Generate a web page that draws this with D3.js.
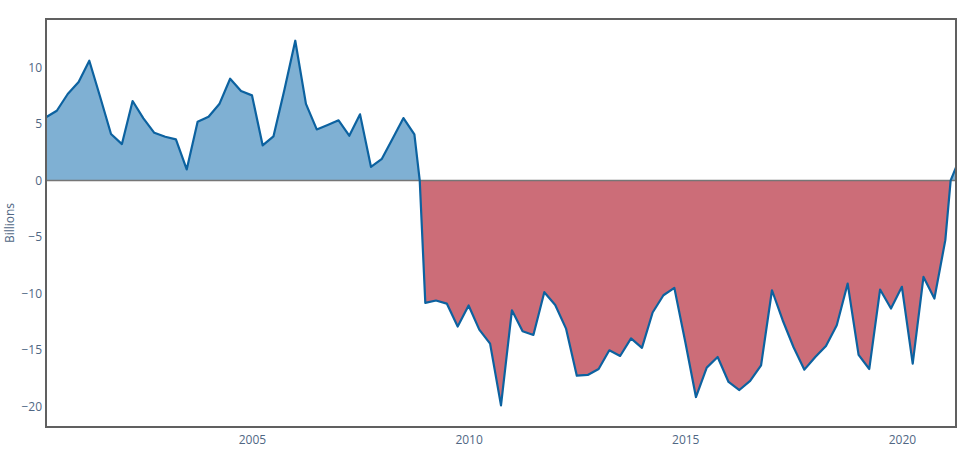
<!DOCTYPE html>
<html>
<head>
<meta charset="utf-8">
<script src="https://cdn.jsdelivr.net/npm/d3@7"></script>
<style>
  html,body{margin:0;padding:0;background:#fff}
  svg{display:block}
</style>
</head>
<body>
<div id="chart"></div>
<script>
// quarterly values (billions); zero points mark where the series crosses sign
var dates=['2000-04-01','2000-07-01','2000-10-01','2001-01-01','2001-04-01','2001-07-01','2001-10-01','2002-01-01',
  '2002-04-01','2002-07-01','2002-10-01','2003-01-01','2003-04-01','2003-07-01','2003-10-01','2004-01-01',
  '2004-04-01','2004-07-01','2004-10-01','2005-01-01','2005-04-01','2005-07-01','2005-10-01','2006-01-01',
  '2006-04-01','2006-07-01','2006-10-01','2007-01-01','2007-04-01','2007-07-01','2007-10-01','2008-01-01',
  '2008-04-01','2008-07-01','2008-10-01','2008-11-15','2009-01-01','2009-04-01','2009-07-01','2009-10-01',
  '2010-01-01','2010-04-01','2010-07-01','2010-10-01','2011-01-01','2011-04-01','2011-07-01','2011-10-01',
  '2012-01-01','2012-04-01','2012-07-01','2012-10-01','2013-01-01','2013-04-01','2013-07-01','2013-10-01',
  '2014-01-01','2014-04-01','2014-07-01','2014-10-01','2015-01-01','2015-04-01','2015-07-01','2015-10-01',
  '2016-01-01','2016-04-01','2016-07-01','2016-10-01','2017-01-01','2017-04-01','2017-07-01','2017-10-01',
  '2018-01-01','2018-04-01','2018-07-01','2018-10-01','2019-01-01','2019-04-01','2019-07-01','2019-10-01',
  '2020-01-01','2020-04-01','2020-07-01','2020-10-01','2021-01-01','2021-02-15','2021-04-01'];
var values=[5.58,6.16,7.64,8.70,10.58,7.4,4.10,3.21,
  7.02,5.49,4.21,3.86,3.63,0.97,5.19,5.63,
  6.75,8.99,7.90,7.52,3.10,3.89,8.0,12.35,
  6.77,4.51,4.9,5.31,3.95,5.84,1.20,1.91,
  3.7,5.51,4.07,0,-10.83,-10.62,-10.89,-12.92,
  -11.06,-13.19,-14.43,-19.89,-11.48,-13.34,-13.66,-9.88,
  -11.01,-13.10,-17.26,-17.20,-16.67,-15.02,-15.52,-13.97,
  -14.8,-11.68,-10.15,-9.50,-14.27,-19.15,-16.55,-15.61,
  -17.82,-18.53,-17.73,-16.35,-9.71,-12.36,-14.73,-16.73,
  -15.61,-14.63,-12.81,-9.12,-15.43,-16.67,-9.65,-11.33,
  -9.41,-16.2,-8.53,-10.44,-5.28,0,1.15];
var yTicks=[-20,-15,-10,-5,0,5,10];
var xTickYears=[2005,2010,2015,2020];

var W=970,H=466;
var m={top:19,right:14,bottom:39,left:46};
var F='"Open Sans",sans-serif';
var C={pos:'#7fb0d3',neg:'#cc6d78',line:'#0c62a0',box:'#606060',zero:'#767676',txt:'#506784'};

var parse=d3.timeParse('%Y-%m-%d');
var data=dates.map(function(d,i){return {t:parse(d),v:values[i]}});

var svg=d3.select('#chart').append('svg').attr('width',W).attr('height',H);

var x=d3.scaleTime().domain(d3.extent(data,function(d){return d.t})).range([m.left,W-m.right]);
var y=d3.scaleLinear().domain([-21.8,14.27]).range([H-m.bottom,m.top]);

var clipTop=svg.append('clipPath').attr('id','cpos').append('rect')
  .attr('x',m.left).attr('y',m.top).attr('width',W-m.left-m.right).attr('height',y(0)-m.top);
var clipBot=svg.append('clipPath').attr('id','cneg').append('rect')
  .attr('x',m.left).attr('y',y(0)).attr('width',W-m.left-m.right).attr('height',H-m.bottom-y(0));

var area=d3.area().x(function(d){return x(d.t)}).y0(y(0)).y1(function(d){return y(d.v)});
svg.append('path').datum(data).attr('d',area).attr('fill',C.pos).attr('clip-path','url(#cpos)');
svg.append('path').datum(data).attr('d',area).attr('fill',C.neg).attr('clip-path','url(#cneg)');

// zero line
svg.append('line').attr('x1',m.left).attr('x2',W-m.right).attr('y1',y(0)).attr('y2',y(0))
  .attr('stroke',C.zero).attr('stroke-width',1.5);

var line=d3.line().x(function(d){return x(d.t)}).y(function(d){return y(d.v)});
svg.append('path').datum(data).attr('d',line).attr('fill','none').attr('stroke',C.line)
  .attr('stroke-width',2.2).attr('stroke-linejoin','round');

// frame
svg.append('rect').attr('x',m.left).attr('y',m.top).attr('width',W-m.left-m.right).attr('height',H-m.top-m.bottom)
  .attr('fill','none').attr('stroke',C.box).attr('stroke-width',2);

// axes (labels only)
var yAx=svg.append('g').attr('transform','translate('+m.left+',0)')
  .call(d3.axisLeft(y).tickValues(yTicks).tickSize(0).tickPadding(4).tickFormat(function(d){return d<0?'\u2212'+(-d):d}));
yAx.select('.domain').remove();
yAx.selectAll('text').attr('font-family',F).attr('font-size',12).attr('fill',C.txt);

var xAx=svg.append('g').attr('transform','translate(0,'+(H-m.bottom)+')')
  .call(d3.axisBottom(x).tickValues(xTickYears.map(function(yr){return new Date(yr,0,1)})).tickSize(0).tickPadding(8).tickFormat(d3.timeFormat('%Y')));
xAx.select('.domain').remove();
xAx.selectAll('text').attr('font-family',F).attr('font-size',12).attr('fill',C.txt);

svg.append('text').attr('transform','translate(14,'+((m.top+H-m.bottom)/2)+') rotate(-90)')
  .attr('text-anchor','middle').attr('font-family',F).attr('font-size',12).attr('fill',C.txt).text('Billions');
</script>
</body>
</html>
